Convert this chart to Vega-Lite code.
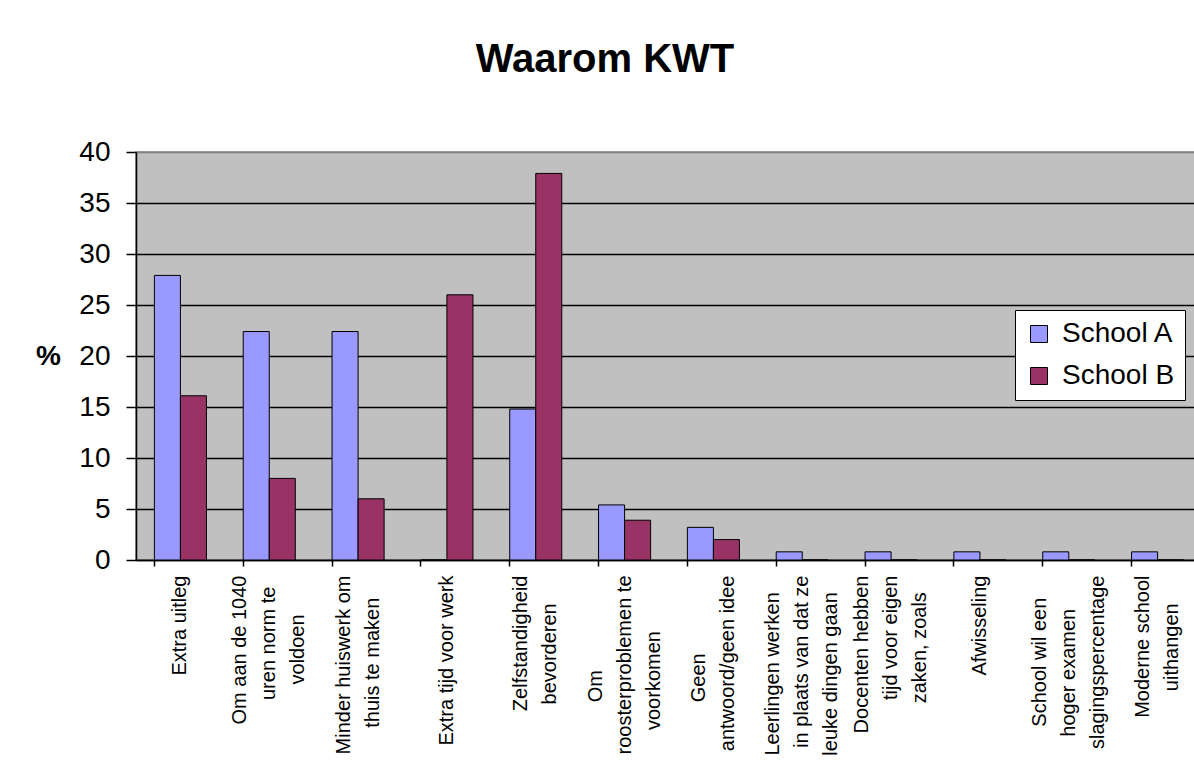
{
  "$schema": "https://vega.github.io/schema/vega-lite/v6.json",
  "width": 1066,
  "height": 408,
  "autosize": {"type": "none"},
  "padding": {"left": 136, "top": 152, "right": 0, "bottom": 216},
  "background": "white",
  "config": {
    "font": "Liberation Sans",
    "view": {"fill": "#C0C0C0", "stroke": "#808080", "strokeWidth": 1.5}
  },
  "title": {
    "text": "Waarom KWT",
    "font": "Liberation Sans",
    "fontSize": 40,
    "fontWeight": "bold",
    "color": "black",
    "anchor": "middle",
    "frame": "group",
    "baseline": "alphabetic",
    "offset": 26,
    "dx": -64
  },
  "data": {
    "values": [
      {"reden": "Extra uitleg", "school": "School A", "pct": 27.9},
      {"reden": "Extra uitleg", "school": "School B", "pct": 16.1},
      {"reden": "Om aan de 1040|uren norm te|voldoen", "school": "School A", "pct": 22.4},
      {"reden": "Om aan de 1040|uren norm te|voldoen", "school": "School B", "pct": 8.0},
      {"reden": "Minder huiswerk om|thuis te maken", "school": "School A", "pct": 22.4},
      {"reden": "Minder huiswerk om|thuis te maken", "school": "School B", "pct": 6.0},
      {"reden": "Extra tijd voor werk", "school": "School A", "pct": 0},
      {"reden": "Extra tijd voor werk", "school": "School B", "pct": 26.0},
      {"reden": "Zelfstandigheid|bevorderen", "school": "School A", "pct": 14.8},
      {"reden": "Zelfstandigheid|bevorderen", "school": "School B", "pct": 37.9},
      {"reden": "Om|roosterproblemen te|voorkomen", "school": "School A", "pct": 5.4},
      {"reden": "Om|roosterproblemen te|voorkomen", "school": "School B", "pct": 3.9},
      {"reden": "Geen|antwoord/geen idee", "school": "School A", "pct": 3.2},
      {"reden": "Geen|antwoord/geen idee", "school": "School B", "pct": 2.0},
      {"reden": "Leerlingen werken|in plaats van dat ze|leuke dingen gaan", "school": "School A", "pct": 0.8},
      {"reden": "Leerlingen werken|in plaats van dat ze|leuke dingen gaan", "school": "School B", "pct": 0},
      {"reden": "Docenten hebben|tijd voor eigen|zaken, zoals", "school": "School A", "pct": 0.8},
      {"reden": "Docenten hebben|tijd voor eigen|zaken, zoals", "school": "School B", "pct": 0},
      {"reden": "Afwisseling", "school": "School A", "pct": 0.8},
      {"reden": "Afwisseling", "school": "School B", "pct": 0},
      {"reden": "School wil een|hoger examen|slagingspercentage", "school": "School A", "pct": 0.8},
      {"reden": "School wil een|hoger examen|slagingspercentage", "school": "School B", "pct": 0},
      {"reden": "Moderne school|uithangen", "school": "School A", "pct": 0.8},
      {"reden": "Moderne school|uithangen", "school": "School B", "pct": 0}
    ]
  },
  "mark": {"type": "bar", "stroke": "black", "strokeWidth": 1},
  "encoding": {
    "x": {
      "field": "reden",
      "type": "nominal",
      "sort": null,
      "scale": {"paddingInner": 0.414, "paddingOuter": 0.207},
      "axis": {
        "title": null,
        "labelExpr": "length(split(datum.label, '|')) == 1 ? datum.label : length(split(datum.label, '|')) == 2 ? [pad(split(datum.label, '|')[0], max(length(split(datum.label, '|')[0]), length(split(datum.label, '|')[1])), '\u00a0') + '\u200b', pad(split(datum.label, '|')[1], max(length(split(datum.label, '|')[0]), length(split(datum.label, '|')[1])), '\u00a0') + '\u200b'] : [pad(split(datum.label, '|')[0], max(length(split(datum.label, '|')[0]), length(split(datum.label, '|')[1]), length(split(datum.label, '|')[2])), '\u00a0') + '\u200b', pad(split(datum.label, '|')[1], max(length(split(datum.label, '|')[0]), length(split(datum.label, '|')[1]), length(split(datum.label, '|')[2])), '\u00a0') + '\u200b', pad(split(datum.label, '|')[2], max(length(split(datum.label, '|')[0]), length(split(datum.label, '|')[1]), length(split(datum.label, '|')[2])), '\u00a0') + '\u200b']",
        "labelAngle": -90,
        "labelAlign": "right",
        "labelBaseline": "middle",
        "labelFontSize": 20,
        "labelLineHeight": 29,
        "labelColor": "black",
        "labelPadding": 9,
        "labelLimit": 400,
        "labelOverlap": false,
        "labelOffset": {
          "condition": [
            {"test": "length(split(datum.value, '|')) >= 3", "value": -29},
            {"test": "length(split(datum.value, '|')) == 2", "value": -14.5}
          ],
          "value": 0
        },
        "bandPosition": 0,
        "tickSize": 6,
        "tickColor": "black",
        "tickWidth": 1.5,
        "domainColor": "black",
        "domainWidth": 1.5,
        "grid": false
      }
    },
    "xOffset": {
      "field": "school",
      "type": "nominal",
      "scale": {"paddingInner": 0, "paddingOuter": 0}
    },
    "y": {
      "field": "pct",
      "type": "quantitative",
      "scale": {"domain": [0, 40], "nice": false},
      "axis": {
        "title": "%",
        "titleAngle": 0,
        "titleFontSize": 28,
        "titleFontWeight": "bold",
        "titleColor": "black",
        "titleX": -88,
        "titleY": 204,
        "titleAlign": "center",
        "titleBaseline": "middle",
        "values": [0, 5, 10, 15, 20, 25, 30, 35, 40],
        "labelFontSize": 28,
        "labelColor": "black",
        "labelPadding": 16,
        "tickSize": 10,
        "tickColor": "black",
        "tickWidth": 1.5,
        "domainColor": "black",
        "domainWidth": 1.5,
        "grid": true,
        "gridColor": {"condition": {"test": "datum.value === 40", "value": "#808080"}, "value": "black"},
        "gridWidth": 1.5
      }
    },
    "color": {
      "field": "school",
      "type": "nominal",
      "scale": {"domain": ["School A", "School B"], "range": ["#9999FF", "#993366"]},
      "legend": {
        "title": null,
        "orient": "none",
        "legendX": 879,
        "legendY": 158,
        "fillColor": "white",
        "strokeColor": "black",
        "padding": 10,
        "rowPadding": 14,
        "symbolType": "square",
        "symbolSize": 289,
        "symbolStrokeColor": "black",
        "symbolStrokeWidth": 1,
        "symbolOpacity": 1,
        "labelFontSize": 28,
        "labelColor": "black",
        "labelOffset": 9,
        "labelLimit": 300
      }
    }
  }
}
